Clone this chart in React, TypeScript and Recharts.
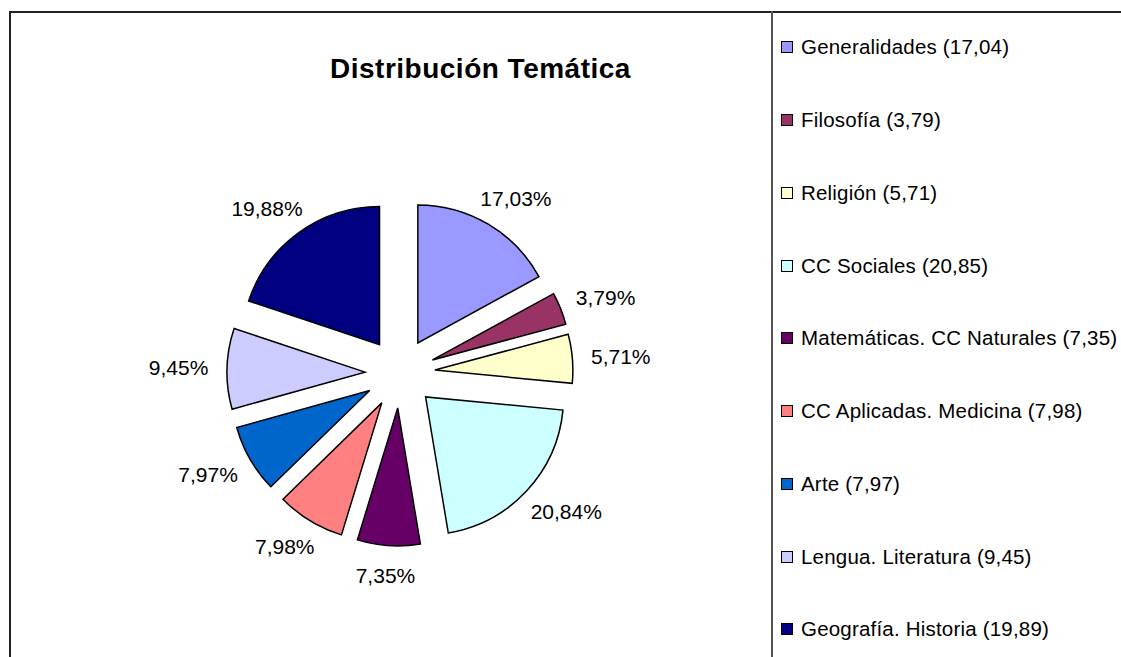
import { PieChart, Pie, Cell, Sector, Legend } from "recharts"

// ── data ──────────────────────────────────────────────────────────────────────

const categories = [
  "Generalidades",
  "Filosofía",
  "Religión",
  "CC Sociales",
  "Matemáticas. CC Naturales",
  "CC Aplicadas. Medicina",
  "Arte",
  "Lengua. Literatura",
  "Geografía. Historia",
]

// percentages shown on the slices
const slicePercents = [17.03, 3.79, 5.71, 20.84, 7.35, 7.98, 7.97, 9.45, 19.88]

// values shown in the legend
const legendValues = [17.04, 3.79, 5.71, 20.85, 7.35, 7.98, 7.97, 9.45, 19.89]

const COLORS = [
  "#9999FF",
  "#993366",
  "#FFFFCC",
  "#CCFFFF",
  "#660066",
  "#FF8080",
  "#0066CC",
  "#CCCCFF",
  "#000080",
]

const data = categories.map((name, i) => ({
  name,
  value: slicePercents[i],
  legend: legendValues[i],
}))

// ── helpers ───────────────────────────────────────────────────────────────────

const FONT = "'Liberation Sans', Arial, sans-serif"
const RADIAN = Math.PI / 180
const EXPLODE = 35

const fmt = (v: number) => v.toFixed(2).replace(".", ",")

function ExplodedSector(props: any) {
  const { cx, cy, midAngle } = props
  const dx = Math.cos(-midAngle * RADIAN) * EXPLODE
  const dy = Math.sin(-midAngle * RADIAN) * EXPLODE
  return <Sector {...props} cx={cx + dx} cy={cy + dy} />
}

function renderLabel(props: any) {
  const { cx, cy, midAngle, outerRadius, value } = props
  const ux = Math.cos(-midAngle * RADIAN)
  const uy = Math.sin(-midAngle * RADIAN)
  const text = `${fmt(value)}%`
  const r = outerRadius + EXPLODE + 19
  const halfW = text.length * 5.9
  const halfH = 11
  const x = cx + ux * r + ux * halfW
  const y = cy + uy * r + uy * halfH
  return (
    <text
      x={x}
      y={y}
      textAnchor="middle"
      dominantBaseline="central"
      fill="#000"
      style={{ fontFamily: FONT, fontSize: 21 }}
    >
      {text}
    </text>
  )
}

function LegendContent() {
  return (
    <div style={{ fontFamily: FONT, fontSize: 20.5, letterSpacing: 0.2, color: "#000" }}>
      {data.map((d, i) => (
        <div
          key={d.name}
          style={{ height: 72.75, display: "flex", alignItems: "center", whiteSpace: "nowrap" }}
        >
          <span
            style={{
              display: "inline-block",
              width: 10,
              height: 10,
              background: COLORS[i],
              border: "1px solid #000",
              marginRight: 8,
            }}
          />
          <span>{`${d.name} (${fmt(d.legend)})`}</span>
        </div>
      ))}
    </div>
  )
}

// ── chart ─────────────────────────────────────────────────────────────────────

export default function App() {
  return (
    <div
      style={{
        position: "absolute",
        left: 0,
        top: 0,
        width: 1121,
        height: 657,
        overflow: "hidden",
        background: "#fff",
      }}
    >
      {/* chart frame */}
      <div
        style={{
          position: "absolute",
          left: 9,
          top: 11,
          width: 1300,
          height: 800,
          border: "2px solid #222",
          boxSizing: "border-box",
        }}
      />
      {/* legend divider */}
      <div
        style={{
          position: "absolute",
          left: 771,
          top: 11,
          width: 2,
          height: 700,
          background: "#555",
        }}
      />
      <div
        style={{
          position: "absolute",
          left: 330,
          top: 53,
          width: 300,
          textAlign: "center",
          fontFamily: FONT,
          fontWeight: "bold",
          fontSize: 28,
          letterSpacing: 0.5,
          whiteSpace: "nowrap",
          color: "#000",
        }}
      >
        Distribución Temática
      </div>
      <div style={{ position: "absolute", left: 0, top: 0 }}>
        <PieChart width={1121} height={657} margin={{ top: 0, right: 0, bottom: 0, left: 0 }}>
          <Pie
            data={data}
            dataKey="value"
            nameKey="name"
            cx={400}
            cy={373}
            outerRadius={138}
            startAngle={90}
            endAngle={-270}
            stroke="#000"
            strokeWidth={1.5}
            label={renderLabel}
            labelLine={false}
            shape={ExplodedSector}
            isAnimationActive={false}
          >
            {data.map((d, i) => (
              <Cell key={d.name} fill={COLORS[i]} />
            ))}
          </Pie>
          <Legend
            layout="vertical"
            align="right"
            verticalAlign="top"
            content={LegendContent}
            wrapperStyle={{ left: 781, top: 11, width: 340 }}
          />
        </PieChart>
      </div>
    </div>
  )
}
